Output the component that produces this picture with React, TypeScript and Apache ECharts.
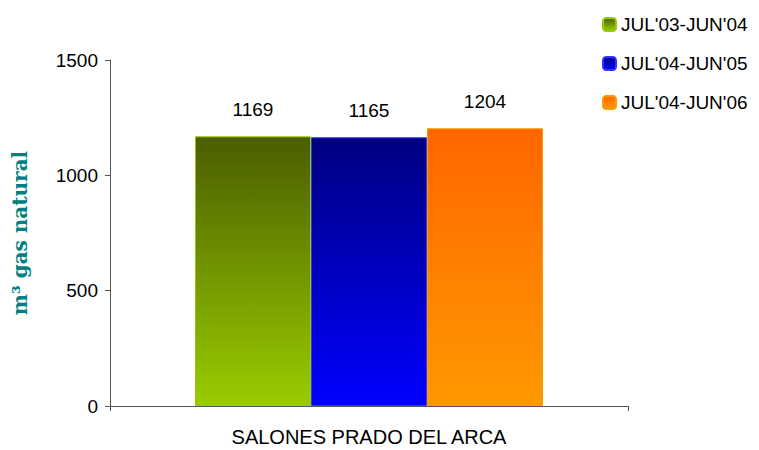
import React, { useEffect, useRef } from "react";
import * as echarts from "echarts";

const categories = ["SALONES PRADO DEL ARCA"];
const seriesNames = ["JUL'03-JUN'04", "JUL'04-JUN'05", "JUL'04-JUN'06"];
const seriesValues = [[1169], [1165], [1204]];
const yTicks = { min: 0, max: 1500, interval: 500 };

const gradients = [
  ["#4A5E00", "#99CC00"],
  ["#000080", "#0000FF"],
  ["#FF6600", "#FF9900"],
];
const borders = ["#99CC00", "#3333FF", "#FF9900"];

export default function App() {
  const ref = useRef<HTMLDivElement>(null);
  useEffect(() => {
    document.body.style.margin = "0";
    const chart = echarts.init(ref.current!, null, { renderer: "svg" });
    const font = "'Liberation Sans', Arial, sans-serif";
    const serif = "'DejaVu Serif', 'Liberation Serif', serif";
    chart.setOption({
      animation: false,
      backgroundColor: "#ffffff",
      textStyle: { fontFamily: font },
      legend: {
        orient: "vertical",
        left: 597,
        top: 10,
        itemWidth: 13,
        itemHeight: 13,
        itemGap: 20,
        textStyle: { fontSize: 19, lineHeight: 19, color: "#000", fontFamily: font },
        data: seriesNames,
      },
      grid: { left: 110, right: 131, top: 60, bottom: 44 },
      xAxis: {
        type: "category",
        data: categories,
        axisLine: { lineStyle: { color: "#555" } },
        axisTick: { show: true, alignWithLabel: false, length: 5, lineStyle: { color: "#555" } },
        axisLabel: { fontSize: 20, color: "#000", margin: 21, fontFamily: font },
      },
      yAxis: {
        type: "value",
        min: yTicks.min,
        max: yTicks.max,
        interval: yTicks.interval,
        name: "m³ gas natural",
        nameLocation: "middle",
        nameGap: 80,
        nameTextStyle: {
          fontFamily: serif,
          fontWeight: "bold",
          fontSize: 20,
          color: "#008080",
          padding: [0, 0, 0, 0],
        },
        splitLine: { show: false },
        axisLine: { show: true, lineStyle: { color: "#555" } },
        axisTick: { show: true, length: 5, lineStyle: { color: "#555" } },
        axisLabel: {
          fontSize: 19,
          color: "#000",
          margin: 12,
          fontFamily: font,
          formatter: (v: number) => String(v),
        },
      },
      series: seriesNames.map((name, i) => ({
        name,
        type: "bar",
        data: seriesValues[i],
        barWidth: 116,
        barGap: "0%",
        itemStyle: {
          color: new echarts.graphic.LinearGradient(0, 0, 0, 1, [
            { offset: 0, color: gradients[i][0] },
            { offset: 1, color: gradients[i][1] },
          ]),
          borderColor: borders[i],
          borderWidth: 1,
        },
        label: {
          show: true,
          position: "top",
          distance: 17,
          fontSize: 19,
          color: "#000",
          fontFamily: font,
        },
      })),
    });
    return () => chart.dispose();
  }, []);
  return <div ref={ref} style={{ width: 759, height: 450 }} />;
}
